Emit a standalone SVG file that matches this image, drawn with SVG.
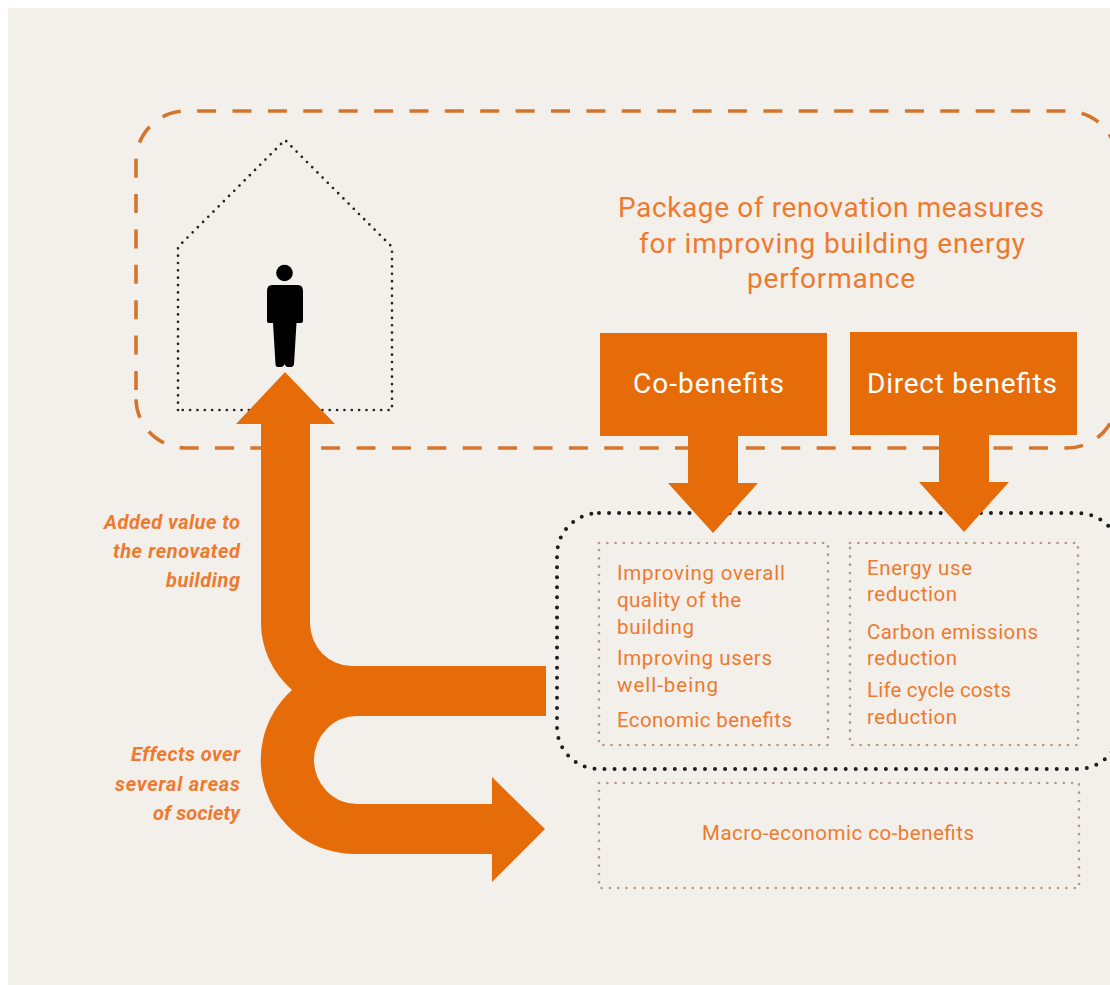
<svg xmlns="http://www.w3.org/2000/svg" width="1110" height="985" viewBox="0 0 1110 985">
<style>
text{font-family:"Roboto","Liberation Sans",sans-serif}
.t{fill:#ee7a2f;font-size:20.500px;font-weight:450}
.h{fill:#ee7a2f;font-size:28px;font-weight:450}
.i{fill:#ee7a2f;font-size:20px;font-weight:700;font-style:italic}
.w{fill:#fff;font-size:28px;font-weight:450}
.box{fill:#e66c0a}
.arrow{fill:#e66c0a}
.tan{fill:none;stroke:#b59a82;stroke-width:2.700;stroke-linecap:round;stroke-dasharray:0 8.3}
.dash{fill:none;stroke:#d5752c;stroke-width:3.600;stroke-dasharray:19 16.39}
</style>
<rect width="1110" height="985" fill="#fff"/>
<rect x="8" y="8" width="1102" height="977" fill="#f3f0ec"/>
<g id="renovation-frame">
<path class="dash" stroke-dashoffset="-26.700" d="M1117 398A50 50 0 0 1 1067 448H186A50 50 0 0 1 136 398"/>
<path class="dash" stroke-dashoffset="-8" d="M136 398V161A50 50 0 0 1 186 111H1067A50 50 0 0 1 1117 161"/>
</g>
<g id="building-outline"><path d="M178 410V247L285 140L392 247V410Z" fill="none" stroke="#222" stroke-width="2.700" stroke-linecap="round" stroke-dasharray="0 7.35"/></g>
<g id="person">
<circle cx="284.500" cy="273" r="8.300" fill="#000"/>
<path d="M272 285H298Q303 285 303 291V321Q303 323 301 323H296.500L294 364Q293.500 367 291 367H288Q285.500 367 284.500 364Q283.500 367 281 367H278Q275.500 367 275.500 364L273 323H268.500Q267 323 267 321V291Q267 285 272 285Z" fill="#000"/>
</g>
<g id="benefits-frame"><rect x="557" y="513" width="563" height="256" rx="42" fill="none" stroke="#1d1d1d" stroke-width="4" stroke-linecap="round" stroke-dasharray="0 10.050"/></g>
<g id="co-benefits-list">
<rect class="tan" x="599" y="543" width="229" height="202"/>
<text class="t" x="617" y="580" textLength="168">Improving overall</text>
<text class="t" x="617" y="607" textLength="124">quality of the</text>
<text class="t" x="617" y="634" textLength="77">building</text>
<text class="t" x="617" y="665" textLength="155">Improving users</text>
<text class="t" x="617" y="692" textLength="101">well-being</text>
<text class="t" x="617" y="727" textLength="175">Economic benefits</text>
</g>
<g id="direct-benefits-list">
<rect class="tan" x="850" y="543" width="228" height="202"/>
<text class="t" x="867" y="575" textLength="105">Energy use</text>
<text class="t" x="867" y="601" textLength="90">reduction</text>
<text class="t" x="867" y="639" textLength="171">Carbon emissions</text>
<text class="t" x="867" y="665" textLength="90">reduction</text>
<text class="t" x="867" y="697" textLength="144">Life cycle costs</text>
<text class="t" x="867" y="724" textLength="90">reduction</text>
</g>
<g id="macro-economic">
<rect class="tan" x="599" y="783" width="480" height="105"/>
<text class="t" x="702" y="840" textLength="272">Macro-economic co-benefits</text>
</g>
<g id="title">
<text class="h" x="618" y="217" textLength="426">Package of renovation measures</text>
<text class="h" x="639" y="253" textLength="386">for improving building energy</text>
<text class="h" x="747" y="288" textLength="168">performance</text>
</g>
<g id="co-benefits"><rect class="box" x="600" y="333" width="227" height="103"/><text class="w" x="633" y="393" textLength="151">Co-benefits</text></g>
<g id="direct-benefits"><rect class="box" x="850" y="332" width="227" height="103"/><text class="w" x="867" y="393" textLength="190">Direct benefits</text></g>
<g id="connectors">
<path class="arrow" d="M688 430H738V483H758L713 533L668 483H688Z"/>
<path class="arrow" d="M939 430H989V482H1009L964 532L919 482H939Z"/>
<path class="arrow" d="M285 372L335 424H310V623A42 43 0 0 0 352 666H546V716H357A43 44 0 0 0 357 804H492V777L545 829L492 882V854H357A94 94 0 0 1 292 690A89 89 0 0 1 261 623V424H236Z"/>
</g>
<g id="side-labels">
<text class="i" x="104" y="529" textLength="136">Added value to</text>
<text class="i" x="113" y="558" textLength="127">the renovated</text>
<text class="i" x="166" y="587" textLength="74">building</text>
<text class="i" x="131" y="761" textLength="109">Effects over</text>
<text class="i" x="115" y="791" textLength="125">several areas</text>
<text class="i" x="153" y="820" textLength="87">of society</text>
</g>
</svg>
